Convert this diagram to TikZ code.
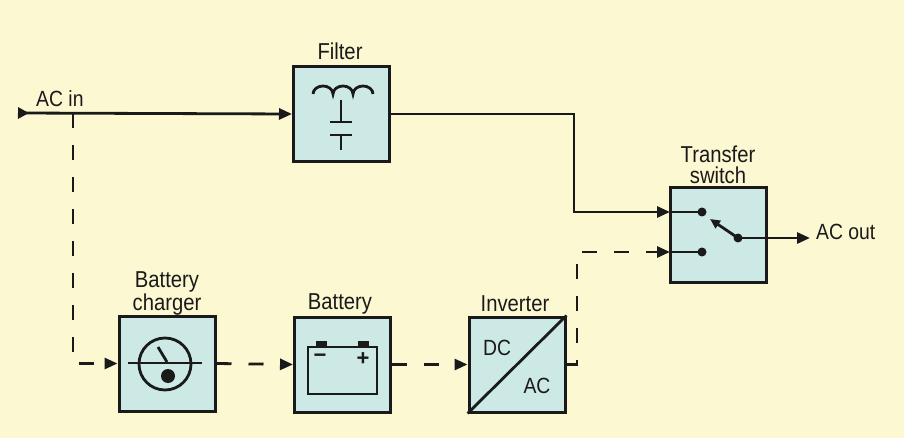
\documentclass[tikz,border=0pt]{standalone}
\usepackage{fontspec}
\setmainfont{Liberation Sans}
\newfontfamily\condfont[FakeStretch=0.88]{Liberation Sans}
\usetikzlibrary{arrows.meta,calc}
\definecolor{bgcream}{HTML}{FCF8D2}
\definecolor{boxfill}{HTML}{CCE9E6}
\definecolor{ink}{HTML}{1A1A1A}
\begin{document}
\begin{tikzpicture}[x=1pt,y=-1pt,
  blk/.style={draw=ink, line width=3pt, fill=boxfill, minimum width=96pt, minimum height=95pt, inner sep=0pt},
  conn/.style={draw=ink, line width=2.8pt},
  dsh/.style={dash pattern=on 15pt off 17pt},
  tip/.style={-{Triangle[length=13pt,width=11pt]}},
  lbl/.style={font=\condfont\fontsize{23}{21}\selectfont, text=ink, inner sep=0pt, align=center},
  small/.style={font=\condfont\fontsize{22}{22}\selectfont},
  icon/.style={draw=ink, line width=2.8pt},
  dotf/.style={fill=ink, draw=none}]
\fill[bgcream] (0,0) rectangle (904,438);
\useasboundingbox (0,0) rectangle (904,438);

% boxes
\node[blk] (filter) at (341.5,114) {};
\node[blk] (charger) at (167,363.5) {};
\node[blk] (battery) at (342.5,364.5) {};
\node[blk] (inverter) at (517,364.5) {};
\node[blk] (switch) at (718,235) {};

% labels
\node[lbl, anchor=base] (filterlbl) at (340,60) {Filter};
\node[lbl, anchor=south] (chargerlbl) at (167,315) {Battery\\charger};
\node[lbl, anchor=base] (batterylbl) at (340,309) {Battery};
\node[lbl, anchor=base] (inverterlbl) at (515,311) {Inverter};
\node[lbl, anchor=south] (switchlbl) at (718,183.5) {Transfer\\switch};
\node[lbl, small, anchor=base west] (acinlbl) at (36,107) {AC in};
\node[lbl, small, anchor=west] (acoutlbl) at (816,232) {AC out};

% filter icon
\draw[icon] (313,94) arc[start angle=180,end angle=0,x radius=10pt,y radius=8pt]
                     arc[start angle=180,end angle=0,x radius=10pt,y radius=8pt]
                     arc[start angle=180,end angle=0,x radius=10pt,y radius=8pt];
\draw[icon] (341,100) -- (341,122);
\draw[icon] (330,122) -- (352,122);
\draw[icon] (330,135) -- (352,135);
\draw[icon] (341,135) -- (341,150);

% charger icon
\draw[icon] (165,364) circle[radius=26pt];
\draw[icon] (128,363) -- (202,363);
\draw[icon] (158,347) -- (167,362);
\fill[dotf] (168,376) circle[radius=7pt];

% battery icon
\draw[icon] (308,347) rectangle (377,394);
\fill[dotf] (316,341) rectangle (327,347);
\fill[dotf] (358,341) rectangle (369,347);
\node[lbl, font=\bfseries\fontsize{22}{22}\selectfont] (minus) at (320,358) {−};
\node[lbl, font=\bfseries\fontsize{22}{22}\selectfont] (plus) at (363,359) {+};

% inverter icon
\draw[icon] (inverter.south west) -- (inverter.north east);
\node[lbl, small] (dc) at (497,348) {DC};
\node[lbl, small] (ac) at (537,386) {AC};

% switch icon
\coordinate (swin1) at (670,212);
\coordinate (swin2) at (670,252);
\coordinate (c1) at (702,212);
\coordinate (c2) at (702,252);
\coordinate (pivot) at (738,238);
\coordinate (armend) at (710,219);
\draw[icon] (swin1) -- (c1);
\draw[icon] (swin2) -- (c2);
\fill[dotf] (c1) circle[radius=4.5pt];
\fill[dotf] (c2) circle[radius=4.5pt];
\fill[dotf] (pivot) circle[radius=4.5pt];
\draw[icon, -{Triangle[length=10pt,width=9pt]}] (pivot) -- (armend);

% connectors
\coordinate (acin) at (18,113);
\coordinate (branch) at (73,113);
\coordinate (acout) at (810,238);
\draw[conn, {Triangle[reversed,length=11pt,width=11pt]}-{Triangle[length=13pt,width=11pt]}] (acin) -- (filter.west);
\draw[conn, dsh, tip] (branch) |- (charger.west);
\draw[conn, dsh, tip] (charger.east) -- (battery.west);
\draw[conn, dsh, tip] (battery.east) -- (inverter.west);
\draw[conn, tip] (filter.east) -| (574,212) -- (swin1);
\draw[conn, dsh, tip] (inverter.east) -| (577,252) -- (swin2);
\draw[conn, tip] (pivot) -- (acout);
\end{tikzpicture}
\end{document}
